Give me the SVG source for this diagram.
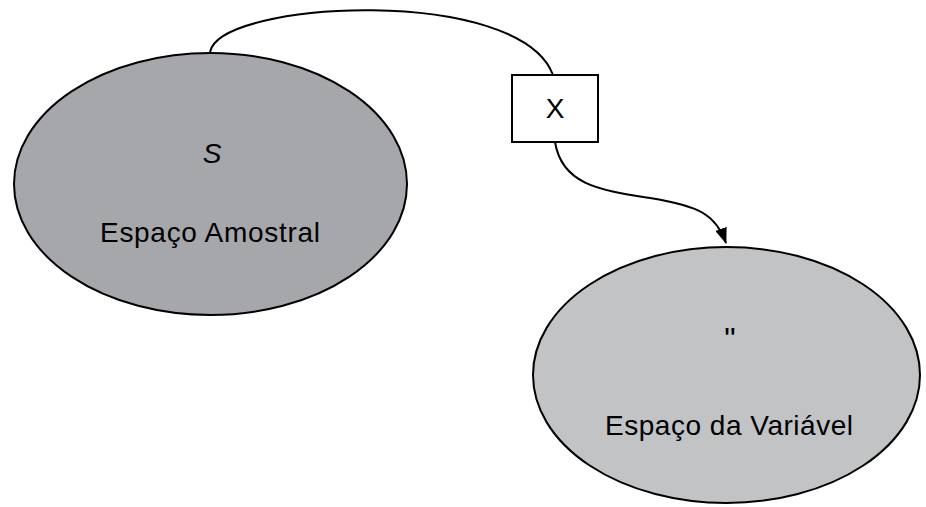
<svg xmlns="http://www.w3.org/2000/svg" width="926" height="507" viewBox="0 0 926 507">
<style>
.lbl{font-family:"Liberation Sans",Arial,sans-serif;font-size:28px;fill:#000;text-anchor:middle}
.conn{fill:none;stroke:#000;stroke-width:2}
</style>
<defs>
<marker id="arr" viewBox="0 0 16 12" refX="15" refY="6" markerWidth="16" markerHeight="12" markerUnits="userSpaceOnUse" orient="auto">
<path d="M0,0 L16,6 L0,12 z" fill="#000"/>
</marker>
</defs>
<rect width="926" height="507" fill="#fff"/>
<g id="connectors">
<path class="conn" d="M210,52 C220,0 520,-15 553,75"/>
<path class="conn" d="M555,142 C562,185 600,190 650,198 C700,206 716,215 726,243" marker-end="url(#arr)"/>
</g>
<g id="espaco-amostral">
<ellipse cx="210.5" cy="184" rx="196.5" ry="131" fill="#a6a7aa" stroke="#000" stroke-width="2"/>
<text class="lbl" x="212" y="163" font-style="italic">S</text>
<text class="lbl" x="210" y="242" textLength="220" lengthAdjust="spacing">Espaço Amostral</text>
</g>
<g id="espaco-variavel">
<ellipse cx="726.5" cy="375" rx="193.5" ry="128" fill="#c2c3c5" stroke="#000" stroke-width="2"/>
<text class="lbl" x="730" y="350" style="font-size:32px">"</text>
<text class="lbl" x="729" y="435" textLength="248" lengthAdjust="spacing">Espaço da Variável</text>
</g>
<g id="x">
<rect x="512" y="75" width="86" height="67" fill="#fff" stroke="#000" stroke-width="2"/>
<text class="lbl" x="555" y="118">X</text>
</g>
</svg>
